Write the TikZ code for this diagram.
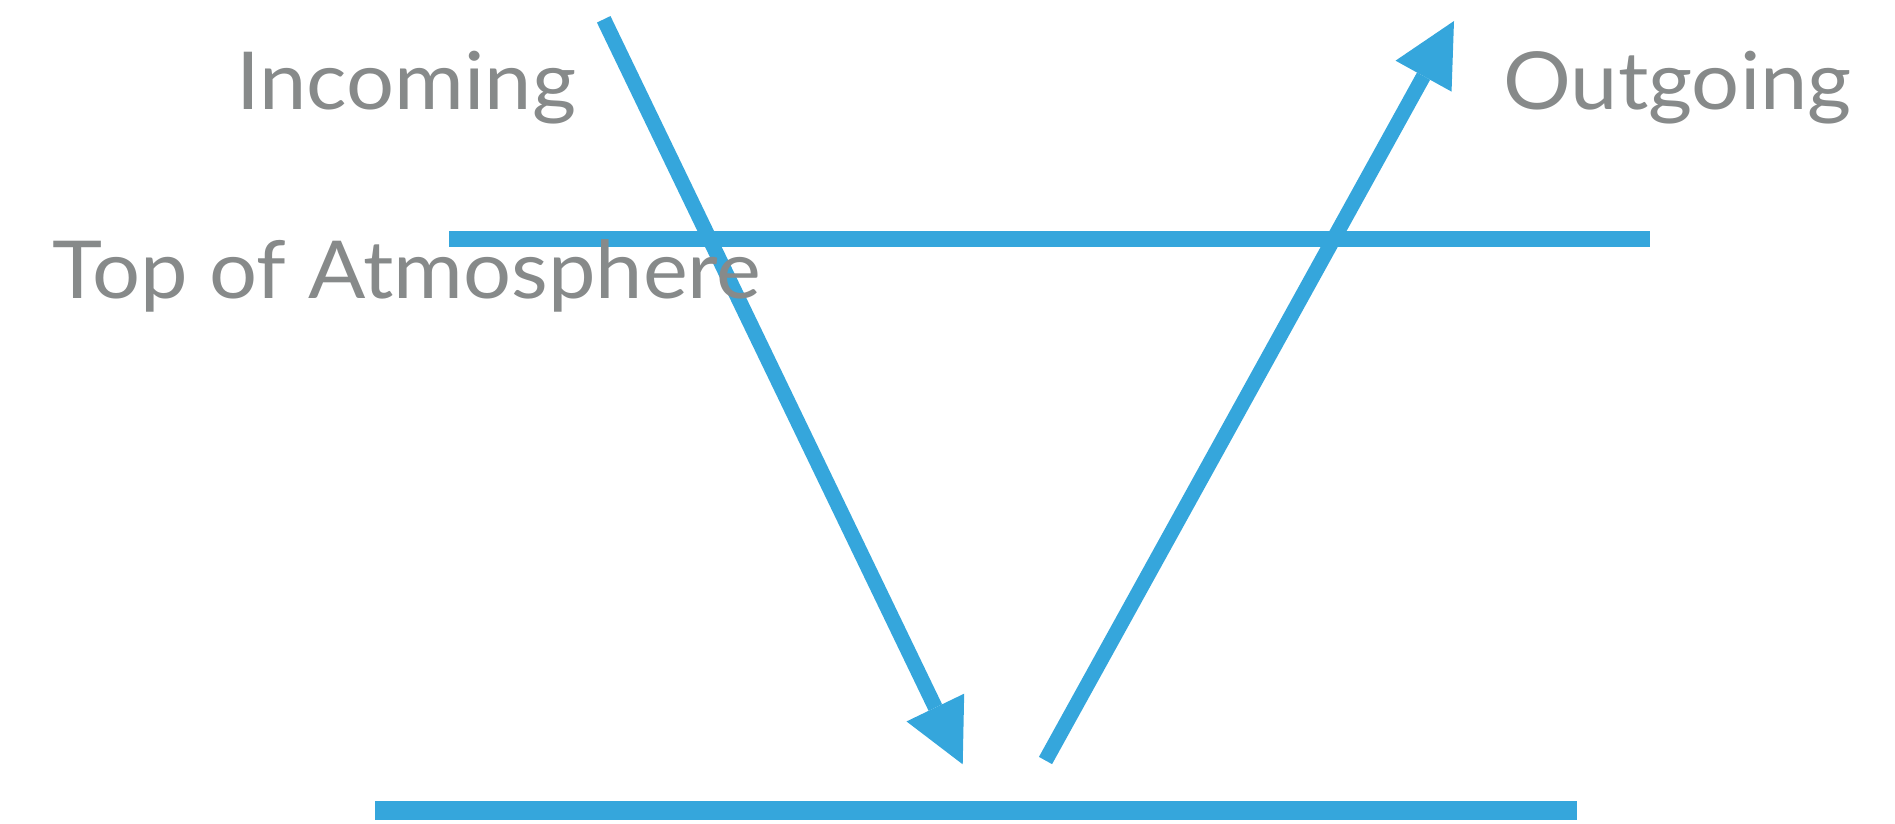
\documentclass[tikz,border=0pt]{standalone}
\usepackage{fontspec}
\setmainfont{Lato}[FakeStretch=1.06]
\usetikzlibrary{arrows.meta}
\definecolor{skyblue}{RGB}{53,166,220}
\definecolor{labelgray}{RGB}{135,138,138}
\begin{document}
\begin{tikzpicture}[x=0.5pt,y=-0.5pt,
  level/.style={draw=skyblue, line width=8pt},
  ray/.style={draw=skyblue, line width=7.5pt,
    -{Triangle[length=31.5pt,width=32pt,line width=0pt]}},
  lbl/.style={text=labelgray, font=\fontsize{40pt}{48pt}\selectfont,
    inner sep=0pt, anchor=base west}]
\useasboundingbox (0,0) rectangle (1895,824);
% levels
\coordinate (toaL) at (449,239);
\coordinate (toaR) at (1650,239);
\coordinate (grdL) at (375,810.5);
\coordinate (grdR) at (1577,810.5);
\draw[level] (toaL) -- (toaR);
\draw[level, line width=9.25pt] (grdL) -- (grdR);
% rays
\coordinate (inStart) at (603.7,19.3);
\coordinate (inTip) at (962.7,764.3);
\coordinate (outStart) at (1045.5,760.5);
\coordinate (outTip) at (1454,21);
\draw[ray] (inStart) -- (inTip);
\draw[ray] (outStart) -- (outTip);
% labels
\node[lbl] (incoming) at (236,110) {Incoming};
\node[lbl] (outgoing) at (1503,110) {Outgoing};
\node[lbl] (toa) at (52,298) {Top of Atmosphere};
\end{tikzpicture}
\end{document}
